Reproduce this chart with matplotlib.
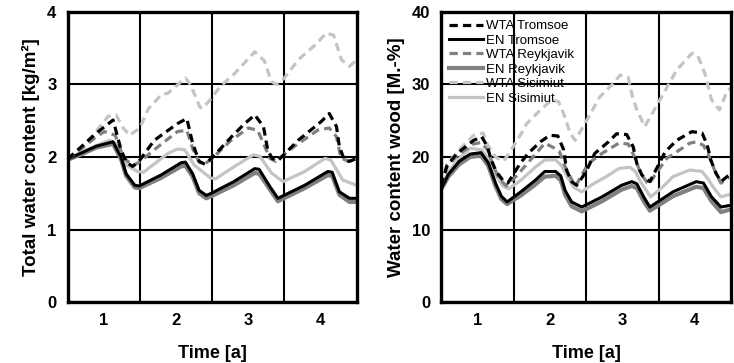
import numpy as np
import matplotlib
matplotlib.use("Agg")
import matplotlib.pyplot as plt
from matplotlib.ticker import FixedLocator

plt.rcParams['font.family'] = ['Liberation Sans', 'DejaVu Sans']
plt.rcParams['font.weight'] = 'bold'

# ---- total water content [kg/m2] (left) ----
t_wta_trom_tot = [0.5, 0.7, 0.9, 1.13, 1.24, 1.31, 1.40, 1.48, 1.70, 2.02, 2.15, 2.23, 2.32, 2.40, 2.49, 2.77, 2.95, 3.09, 3.21, 3.27, 3.33, 3.41, 3.69, 4.01, 4.12, 4.22, 4.26, 4.33, 4.40, 4.5]
wta_trom_tot = [1.97, 2.15, 2.33, 2.51, 2.10, 1.93, 1.87, 1.93, 2.23, 2.46, 2.53, 2.19, 1.94, 1.90, 1.98, 2.28, 2.46, 2.58, 2.42, 2.09, 1.98, 1.95, 2.23, 2.49, 2.60, 2.42, 2.14, 1.96, 1.94, 1.98]

t_wta_reyk_tot = [0.5, 0.7, 0.9, 1.01, 1.16, 1.27, 1.40, 1.48, 1.75, 2.02, 2.15, 2.23, 2.32, 2.39, 2.49, 2.75, 3.0, 3.13, 3.23, 3.30, 3.38, 3.60, 3.96, 4.12, 4.22, 4.28, 4.38, 4.5]
wta_reyk_tot = [1.97, 2.12, 2.28, 2.35, 2.30, 2.0, 1.88, 1.92, 2.14, 2.35, 2.37, 2.12, 1.93, 1.90, 1.97, 2.22, 2.40, 2.37, 2.14, 1.98, 1.94, 2.12, 2.37, 2.40, 2.28, 1.99, 1.94, 1.97]

t_wta_sis_tot = [0.5, 0.71, 0.9, 1.06, 1.17, 1.27, 1.36, 1.5, 1.62, 1.80, 1.89, 2.13, 2.2, 2.33, 2.36, 2.45, 2.61, 2.81, 3.09, 3.22, 3.32, 3.39, 3.50, 3.69, 3.92, 4.08, 4.18, 4.29, 4.40, 4.5]
wta_sis_tot = [1.97, 2.14, 2.36, 2.56, 2.58, 2.40, 2.30, 2.40, 2.67, 2.86, 2.88, 3.09, 3.0, 2.69, 2.67, 2.76, 2.97, 3.15, 3.45, 3.33, 3.04, 3.0, 3.09, 3.34, 3.54, 3.71, 3.68, 3.34, 3.25, 3.34]

t_en_sis_tot = [0.5, 0.7, 0.9, 1.08, 1.20, 1.31, 1.47, 1.55, 1.89, 2.02, 2.12, 2.25, 2.48, 2.55, 2.81, 3.07, 3.16, 3.32, 3.48, 3.78, 4.06, 4.14, 4.31, 4.5]
en_sis_tot = [1.97, 2.07, 2.16, 2.23, 2.17, 1.89, 1.80, 1.79, 2.05, 2.11, 2.10, 1.89, 1.71, 1.70, 1.87, 2.03, 2.01, 1.78, 1.66, 1.80, 1.98, 1.96, 1.68, 1.61]

t_en_trom_tot = [0.5, 0.7, 0.9, 1.13, 1.24, 1.31, 1.43, 1.49, 1.79, 2.07, 2.13, 2.23, 2.32, 2.42, 2.49, 2.8, 3.09, 3.15, 3.30, 3.41, 3.78, 4.1, 4.16, 4.26, 4.4, 4.5]
en_trom_tot = [1.97, 2.06, 2.15, 2.21, 2.0, 1.77, 1.61, 1.60, 1.75, 1.92, 1.93, 1.77, 1.54, 1.47, 1.50, 1.66, 1.84, 1.83, 1.59, 1.43, 1.61, 1.80, 1.79, 1.52, 1.43, 1.43]

t_en_reyk_tot = [0.5, 0.7, 0.9, 1.13, 1.24, 1.31, 1.43, 1.49, 1.79, 2.07, 2.13, 2.23, 2.32, 2.42, 2.49, 2.8, 3.09, 3.15, 3.30, 3.41, 3.78, 4.1, 4.16, 4.26, 4.4, 4.5]
en_reyk_tot = [1.96, 2.04, 2.13, 2.18, 1.97, 1.74, 1.58, 1.57, 1.71, 1.87, 1.88, 1.73, 1.50, 1.43, 1.46, 1.61, 1.78, 1.77, 1.55, 1.39, 1.57, 1.75, 1.74, 1.48, 1.38, 1.38]

# ---- water content wood [M.-%] (right) ----
t_wta_trom_wood = [0.5, 0.58, 0.72, 0.95, 1.06, 1.14, 1.19, 1.26, 1.35, 1.42, 1.59, 1.70, 1.87, 2.0, 2.11, 2.19, 2.23, 2.30, 2.37, 2.49, 2.62, 2.81, 2.92, 3.06, 3.15, 3.20, 3.27, 3.38, 3.59, 3.75, 3.96, 4.1, 4.17, 4.22, 4.29, 4.36, 4.47]
wta_trom_wood = [16.0, 18.8, 20.5, 22.3, 22.8, 21.4, 19.6, 18.0, 16.8, 16.4, 19.1, 20.5, 22.1, 23.0, 22.9, 21.0, 18.2, 16.6, 16.1, 17.8, 20.5, 22.1, 23.2, 23.1, 21.4, 19.1, 17.5, 16.6, 20.7, 22.3, 23.5, 23.3, 21.7, 19.6, 17.8, 16.6, 17.5]

t_wta_reyk_wood = [0.5, 0.58, 0.72, 0.95, 1.05, 1.14, 1.22, 1.30, 1.40, 1.55, 1.75, 1.93, 2.05, 2.13, 2.21, 2.35, 2.53, 2.72, 2.95, 3.08, 3.17, 3.25, 3.36, 3.61, 3.93, 4.02, 4.12, 4.2, 4.28, 4.36, 4.47]
wta_reyk_wood = [16.0, 18.6, 20.2, 21.8, 22.0, 21.0, 18.8, 17.0, 16.0, 17.5, 19.8, 21.9, 21.3, 20.8, 18.7, 15.9, 19.1, 20.5, 21.9, 21.8, 20.0, 17.8, 16.2, 19.8, 21.9, 22.1, 21.6, 20.0, 18.0, 16.4, 17.2]

t_wta_sis_wood = [0.5, 0.58, 0.72, 0.95, 1.08, 1.14, 1.25, 1.36, 1.45, 1.61, 1.68, 1.87, 2.03, 2.12, 2.19, 2.28, 2.35, 2.5, 2.69, 2.88, 2.97, 3.08, 3.14, 3.2, 3.31, 3.52, 3.75, 3.96, 4.04, 4.14, 4.23, 4.34, 4.45, 4.5]
wta_sis_wood = [16.2, 19.0, 20.7, 23.0, 23.3, 21.7, 20.0, 19.4, 20.7, 23.3, 24.6, 26.5, 27.9, 27.6, 26.0, 23.3, 22.3, 24.9, 28.3, 30.2, 31.3, 31.0, 28.3, 26.5, 24.2, 27.9, 32.0, 34.3, 34.0, 31.5, 27.9, 26.5, 29.2, 29.5]

t_en_sis_wood = [0.5, 0.6, 0.75, 0.90, 1.06, 1.15, 1.25, 1.35, 1.43, 1.6, 1.8, 1.93, 2.08, 2.16, 2.25, 2.33, 2.44, 2.6, 2.78, 2.95, 3.1, 3.18, 3.25, 3.39, 3.55, 3.70, 3.93, 4.1, 4.18, 4.25, 4.36, 4.47]
en_sis_wood = [15.6, 18.0, 19.8, 21.2, 21.0, 19.8, 17.6, 16.0, 15.6, 16.8, 18.6, 19.6, 19.6, 18.8, 17.1, 15.8, 15.2, 16.3, 17.3, 18.4, 18.6, 18.0, 16.6, 14.5, 15.8, 17.3, 18.2, 18.0, 17.0, 15.9, 14.5, 14.8]

t_en_trom_wood = [0.5, 0.6, 0.75, 0.9, 1.05, 1.15, 1.25, 1.33, 1.41, 1.6, 1.8, 1.93, 2.08, 2.15, 2.21, 2.30, 2.44, 2.72, 2.99, 3.13, 3.2, 3.30, 3.38, 3.7, 4.02, 4.12, 4.23, 4.36, 4.47]
en_trom_wood = [15.6, 17.6, 19.4, 20.4, 20.6, 19.2, 16.4, 14.6, 13.8, 15.2, 16.8, 18.0, 18.0, 17.4, 15.4, 13.8, 13.1, 14.5, 16.1, 16.6, 16.3, 14.4, 13.1, 15.2, 16.6, 16.4, 14.5, 13.1, 13.3]

t_en_reyk_wood = [0.5, 0.6, 0.75, 0.9, 1.05, 1.15, 1.25, 1.33, 1.41, 1.6, 1.8, 1.93, 2.08, 2.15, 2.21, 2.30, 2.44, 2.72, 2.99, 3.13, 3.2, 3.30, 3.38, 3.7, 4.02, 4.12, 4.23, 4.36, 4.47]
en_reyk_wood = [15.5, 17.3, 19.0, 20.0, 20.2, 18.8, 16.0, 14.2, 13.5, 14.7, 16.2, 17.3, 17.4, 16.8, 14.8, 13.2, 12.5, 13.9, 15.5, 16.0, 15.7, 13.8, 12.6, 14.6, 15.9, 15.7, 13.9, 12.4, 12.7]

labels = ["WTA Tromsoe", "EN Tromsoe", "WTA Reykjavik", "EN Reykjavik", "WTA Sisimiut", "EN Sisimiut"]
year_ticks = [1, 2, 3, 4]

black = "#000000"
dgray = "#808080"
lgray = "#c4c4c4"
dash = (2.6, 1.6)

fig = plt.figure(figsize=(7.34, 3.63), dpi=100)
ax1 = fig.add_axes([0.092, 0.168, 0.394, 0.799])
ax2 = fig.add_axes([0.601, 0.168, 0.395, 0.799])


def style(ax, ymax, ystep, ylabel):
    ax.set_xlim(0.5, 4.5)
    ax.set_ylim(0, ymax)
    ax.set_yticks(np.arange(0, ymax + ystep / 2, ystep))
    ax.set_xticks(year_ticks)
    ax.xaxis.set_minor_locator(FixedLocator([1.5, 2.5, 3.5]))
    ax.grid(False)
    ax.grid(True, which="minor", axis="x", color="black", lw=1.5)
    ax.grid(True, which="major", axis="y", color="black", lw=1.5)
    ax.tick_params(which="both", length=0, labelsize=12, pad=8)
    for lab in ax.get_xticklabels() + ax.get_yticklabels():
        lab.set_fontweight("bold")
    for s in ax.spines.values():
        s.set_linewidth(2.4)
    ax.set_axisbelow(True)
    ax.set_xlabel("Time [a]", fontsize=13, fontweight="bold", labelpad=12)
    ax.set_ylabel(ylabel, fontsize=13.5, fontweight="bold", labelpad=5)


# left
ax1.plot(t_wta_sis_tot, wta_sis_tot, color=lgray, lw=2.3, dashes=dash)
ax1.plot(t_en_sis_tot, en_sis_tot, color=lgray, lw=2.3)
ax1.plot(t_en_reyk_tot, en_reyk_tot, color=dgray, lw=3.0)
ax1.plot(t_en_trom_tot, en_trom_tot, color=black, lw=2.2)
ax1.plot(t_wta_reyk_tot, wta_reyk_tot, color=dgray, lw=2.3, dashes=dash)
ax1.plot(t_wta_trom_tot, wta_trom_tot, color=black, lw=2.3, dashes=dash)
style(ax1, 4, 1, "Total water content [kg/m²]")

# right
l_ws, = ax2.plot(t_wta_sis_wood, wta_sis_wood, color=lgray, lw=2.3, dashes=dash)
l_es, = ax2.plot(t_en_sis_wood, en_sis_wood, color=lgray, lw=2.3)
l_er, = ax2.plot(t_en_reyk_wood, en_reyk_wood, color=dgray, lw=3.0)
l_et, = ax2.plot(t_en_trom_wood, en_trom_wood, color=black, lw=2.2)
l_wr, = ax2.plot(t_wta_reyk_wood, wta_reyk_wood, color=dgray, lw=2.3, dashes=dash)
l_wt, = ax2.plot(t_wta_trom_wood, wta_trom_wood, color=black, lw=2.3, dashes=dash)
style(ax2, 40, 10, "Water content wood [M.-%]")

leg = ax2.legend([l_wt, l_et, l_wr, l_er, l_ws, l_es], labels, loc="upper left",
                 frameon=False, fontsize=9.5, handlelength=2.6, handletextpad=0.2,
                 labelspacing=0.17, borderaxespad=0.4, borderpad=0.2)
for txt in leg.get_texts():
    txt.set_fontweight("normal")

fig.savefig("out.png", dpi=100)
